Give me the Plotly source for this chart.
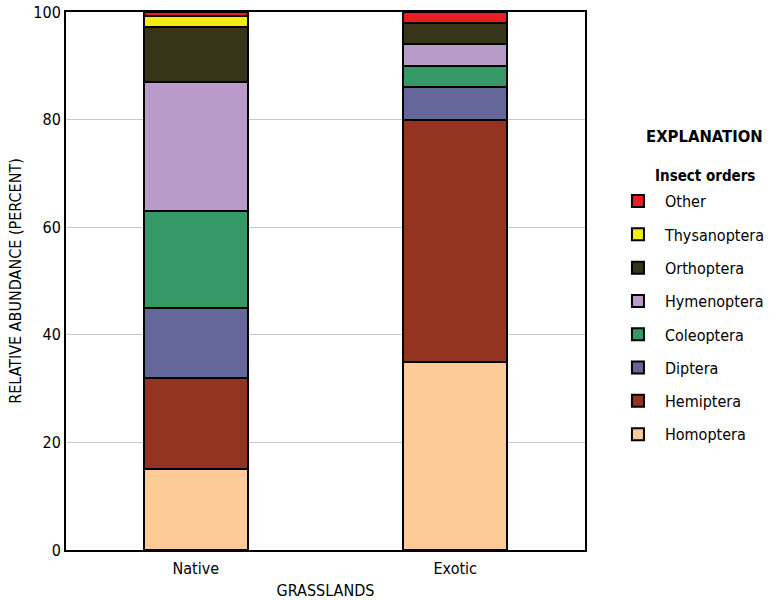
import plotly.graph_objects as go

categories = ["Native", "Exotic"]
orders = ["Homoptera", "Hemiptera", "Diptera", "Coleoptera", "Hymenoptera",
          "Orthoptera", "Thysanoptera", "Other"]
native = [15, 17, 13, 18, 24, 10.2, 2.1, 0.7]
exotic = [35, 45, 6, 4, 4.1, 3.9, 0, 2]
colors = ["#FCCB98", "#933420", "#656699", "#349966", "#B89BC8",
          "#363419", "#F5EB14", "#ED1C24"]

FONT = "DejaVu Sans Condensed, Roboto, Arial"

fig = go.Figure()
for i, name in enumerate(orders):
    fig.add_trace(go.Bar(
        x=categories, y=[native[i], exotic[i]], name=name,
        marker=dict(color=colors[i], line=dict(color="black", width=2)),
        width=0.4, legendgroup=name, legendrank=len(orders) - i,
    ))

fig.update_layout(
    width=771, height=600,
    barmode="stack",
    plot_bgcolor="white", paper_bgcolor="white",
    margin=dict(l=66, r=186, t=12, b=50, autoexpand=False),
    font=dict(family=FONT, size=16, color="black"),
    showlegend=True,
    legend=dict(x=1.05, y=0.68, xanchor="left", yanchor="top",
                traceorder="grouped", tracegroupgap=9.5,
                font=dict(family=FONT, size=16), itemwidth=44),
    xaxis=dict(range=[-0.5, 1.5], showline=True, linecolor="black", linewidth=2,
               mirror=True, ticks="", automargin=False,
               tickfont=dict(size=16), ticklabelstandoff=3,
               title=dict(text="GRASSLANDS", standoff=8, font=dict(size=16))),
    yaxis=dict(range=[0, 100], dtick=20, showline=True, linecolor="black", linewidth=2,
               mirror=True, showgrid=True, gridcolor="#C8C8C8", gridwidth=1,
               ticks="", zeroline=False, automargin=False,
               tickfont=dict(size=16),
               title=dict(text="RELATIVE ABUNDANCE (PERCENT)", standoff=8,
                          font=dict(size=16))),
    annotations=[
        dict(text="<b>EXPLANATION</b>", xref="paper", yref="paper", x=1.231, y=0.768,
             xanchor="center", yanchor="middle", showarrow=False,
             font=dict(family=FONT, size=16.5)),
        dict(text="<b>Insect orders</b>", xref="paper", yref="paper", x=1.231, y=0.695,
             xanchor="center", yanchor="middle", showarrow=False,
             font=dict(family=FONT, size=15)),
    ],
)

fig.write_html("out.html", config={"displayModeBar": False},
               post_script="document.body.style.margin='0';")
